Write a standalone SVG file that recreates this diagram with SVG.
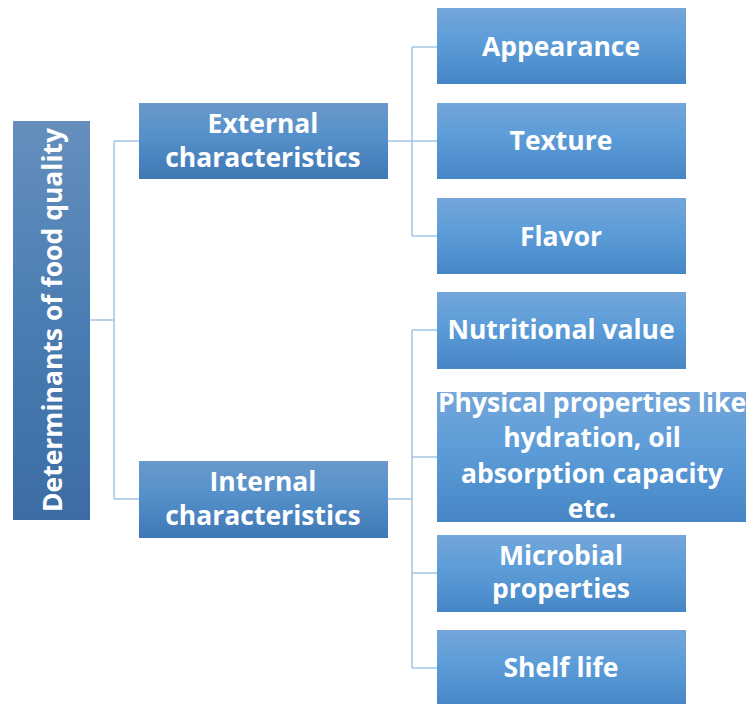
<svg xmlns="http://www.w3.org/2000/svg" width="746" height="704" viewBox="0 0 746 704">
  <defs>
    <linearGradient id="gLeaf" x1="0" y1="0" x2="0" y2="1">
      <stop offset="0" stop-color="#74a6da"/>
      <stop offset="0.45" stop-color="#5b9cd8"/>
      <stop offset="1" stop-color="#4686c6"/>
    </linearGradient>
    <linearGradient id="gMid" x1="0" y1="0" x2="0" y2="1">
      <stop offset="0" stop-color="#6a99c9"/>
      <stop offset="0.45" stop-color="#5590cb"/>
      <stop offset="1" stop-color="#3f77b3"/>
    </linearGradient>
    <linearGradient id="gRoot" x1="0" y1="0" x2="0" y2="1">
      <stop offset="0" stop-color="#658fbd"/>
      <stop offset="0.5" stop-color="#4a7db3"/>
      <stop offset="1" stop-color="#3c6ca3"/>
    </linearGradient>
    <style>
      .lbl { font-family: "Open Sans", "Liberation Sans", sans-serif; font-weight: 700; font-size: 26.5px; fill: #ffffff; text-anchor: middle; }
      .conn { fill: none; stroke: #a3c5e8; stroke-width: 1.5; }
    </style>
  </defs>

  <rect width="746" height="704" fill="#ffffff"/>

  <g id="connectors">
    <path class="conn" d="M90 320 H114 M114 141 V499 M114 141 H139 M114 499 H139"/>
    <path class="conn" d="M388 141 H412 M412 47 V236 M412 47 H437 M412 141 H437 M412 236 H437"/>
    <path class="conn" d="M388 499 H412 M412 330 V668 M412 330 H437 M412 457 H437 M412 573 H437 M412 668 H437"/>
  </g>

  <g id="root">
    <rect x="13" y="121" width="77" height="399" fill="url(#gRoot)"/>
    <text class="lbl" transform="translate(62 320) rotate(-90)" x="0" y="0">Determinants of food quality</text>
  </g>

  <g id="external">
    <rect x="139" y="103" width="249" height="76" fill="url(#gMid)"/>
    <text class="lbl" x="263" y="133">External</text>
    <text class="lbl" x="263" y="167">characteristics</text>
  </g>

  <g id="internal">
    <rect x="139" y="461" width="249" height="77" fill="url(#gMid)"/>
    <text class="lbl" x="263" y="491">Internal</text>
    <text class="lbl" x="263" y="525">characteristics</text>
  </g>

  <g id="appearance">
    <rect x="437" y="8" width="249" height="76" fill="url(#gLeaf)"/>
    <text class="lbl" x="561" y="56">Appearance</text>
  </g>

  <g id="texture">
    <rect x="437" y="103" width="249" height="76" fill="url(#gLeaf)"/>
    <text class="lbl" x="561" y="150">Texture</text>
  </g>

  <g id="flavor">
    <rect x="437" y="198" width="249" height="76" fill="url(#gLeaf)"/>
    <text class="lbl" x="561" y="246">Flavor</text>
  </g>

  <g id="nutritional">
    <rect x="437" y="292" width="249" height="77" fill="url(#gLeaf)"/>
    <text class="lbl" x="561" y="339">Nutritional value</text>
  </g>

  <g id="physical">
    <rect x="437" y="392" width="309" height="130" fill="url(#gLeaf)"/>
    <text class="lbl" x="592" y="412">Physical properties like</text>
    <text class="lbl" x="592" y="447">hydration, oil</text>
    <text class="lbl" x="592" y="483">absorption capacity</text>
    <text class="lbl" x="592" y="518">etc.</text>
  </g>

  <g id="microbial">
    <rect x="437" y="535" width="249" height="77" fill="url(#gLeaf)"/>
    <text class="lbl" x="561" y="565">Microbial</text>
    <text class="lbl" x="561" y="598">properties</text>
  </g>

  <g id="shelf-life">
    <rect x="437" y="630" width="249" height="76" fill="url(#gLeaf)"/>
    <text class="lbl" x="561" y="677">Shelf life</text>
  </g>
</svg>
